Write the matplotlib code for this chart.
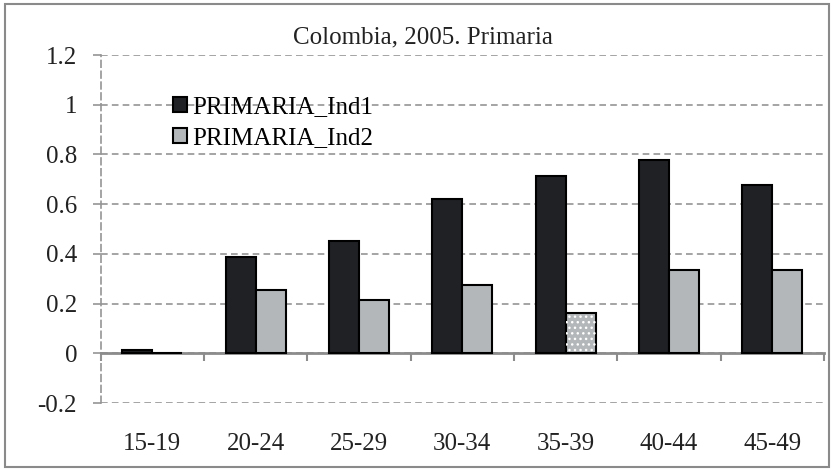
import numpy as np
import matplotlib
matplotlib.use('Agg')
import matplotlib.pyplot as plt
from matplotlib.patches import Rectangle

plt.rcParams['font.family'] = ['Liberation Serif', 'DejaVu Serif']

categories = ['15-19', '20-24', '25-29', '30-34', '35-39', '40-44', '45-49']
ind1 = [0.013, 0.387, 0.453, 0.620, 0.715, 0.779, 0.677]
ind2 = [0.003, 0.256, 0.216, 0.276, 0.164, 0.336, 0.336]
yticks = [-0.2, 0, 0.2, 0.4, 0.6, 0.8, 1, 1.2]
ytick_labels = ['-0.2', '0', '0.2', '0.4', '0.6', '0.8', '1', '1.2']
title = 'Colombia, 2005. Primaria'

W, H = 834, 470
fig = plt.figure(figsize=(W / 100, H / 100), dpi=100)
ax = fig.add_axes([100.7 / W, (H - 403) / H, (824 - 100.7) / W, (403 - 55) / H])

grid_col = '#959595'
x = np.arange(len(categories))
w = 0.29
b1 = ax.bar(x - w / 2, ind1, w, color='#202124', edgecolor='black', linewidth=1.5,
            label='PRIMARIA_Ind1', zorder=3)
b2 = ax.bar(x + w / 2, ind2, w, color='#b4b7b9', edgecolor='black', linewidth=1.5,
            label='PRIMARIA_Ind2', zorder=3)
# dotted fill on the 35-39 bar
ax.bar(x[4] + w / 2, ind2[4], w, color='none', edgecolor='white', hatch='...',
       linewidth=0, zorder=4)

ax.set_xlim(-0.5, len(categories) - 0.5)
ax.set_ylim(-0.2, 1.2)
ax.set_yticks(yticks)
ax.set_yticklabels(ytick_labels, fontsize=18, color='#222222')
ax.yaxis.grid(True, color=grid_col, linestyle=(0, (4, 2.5)), linewidth=1.2)
ax.set_axisbelow(True)

for s in ['top', 'right']:
    ax.spines[s].set_visible(False)
ax.spines['left'].set_color(grid_col)
ax.spines['left'].set_linestyle((0, (4, 2.5)))
ax.spines['left'].set_linewidth(1.2)
ax.spines['bottom'].set_position(('data', 0))
ax.spines['bottom'].set_color('#8c8c8c')
ax.spines['bottom'].set_linewidth(2)

ax.set_xticks(np.arange(len(categories) + 1) - 0.5)
ax.set_xticklabels([])
ax.tick_params(axis='x', direction='out', length=6, width=1.5, color='#8c8c8c')
ax.tick_params(axis='y', direction='out', length=6, width=1.2, color=grid_col, pad=11)

for i, c in enumerate(categories):
    ax.text(i, -0.118, c, transform=ax.get_xaxis_transform(), ha='center', va='center',
            fontsize=18, color='#222222')

fig.text(423 / W, 1 - 37 / H, title, ha='center', va='center', fontsize=18, color='#222222')

ax.legend(handles=[b1, b2], loc='upper left', bbox_to_anchor=(173 / W, 1 - 96 / H),
          bbox_transform=fig.transFigure, frameon=False, fontsize=18,
          handlelength=0.56, handleheight=0.56, handletextpad=0.2,
          labelspacing=0.36, borderpad=0, borderaxespad=0)

fig.patches.append(Rectangle((5 / W, 3 / H), 824 / W, 463 / H, transform=fig.transFigure,
                             fill=False, edgecolor='#8a8a8a', linewidth=1.5))

fig.savefig('out.png', dpi=100)
